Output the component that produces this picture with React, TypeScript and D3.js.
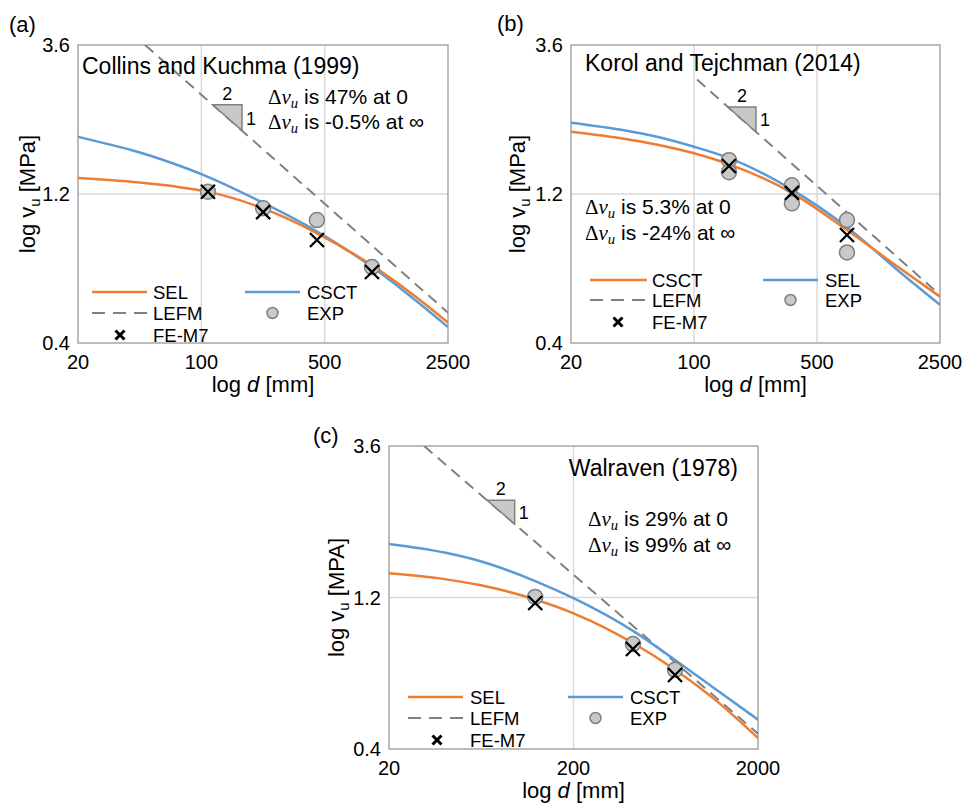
import React from "react";
import * as d3 from "d3";

type Pt = [number, number]; // [d in mm, v in MPa]

// ---------- panel (a) Collins and Kuchma (1999) ----------
const aOrange: Pt[] = [[20, 1.35], [40, 1.313], [70, 1.27], [110, 1.219], [220, 1.083], [450, 0.9], [930, 0.708], [1500, 0.585], [2500, 0.465]];
const aBlue: Pt[] = [[20, 1.83], [30, 1.73], [40, 1.66], [70, 1.5], [100, 1.39], [220, 1.13], [410, 0.94], [930, 0.7], [1500, 0.57], [2500, 0.45]];
const aLefm: Pt[] = [[48, 3.6], [2500, 0.5]];
const aExp: Pt[] = [[109, 1.22], [224, 1.08], [452, 0.99], [927, 0.7]];
const aFe: Pt[] = [[109, 1.22], [224, 1.05], [452, 0.855], [927, 0.675]];

// ---------- panel (b) Korol and Tejchman (2014) ----------
const bOrange: Pt[] = [[20, 1.9], [40, 1.804], [60, 1.732], [100, 1.62], [160, 1.49], [360, 1.21], [740, 0.92], [1500, 0.69], [2500, 0.563]];
const bBlue: Pt[] = [[20, 2.03], [40, 1.92], [60, 1.837], [100, 1.7], [160, 1.56], [360, 1.24], [740, 0.94], [1500, 0.67], [2500, 0.53]];
const bLefm: Pt[] = [[104, 2.79], [2500, 0.57]];
const bExp: Pt[] = [[158, 1.54], [158, 1.41], [360, 1.28], [360, 1.12], [740, 0.99], [740, 0.78]];
const bFe: Pt[] = [[158, 1.475], [360, 1.21], [740, 0.887]];

// ---------- panel (c) Walraven (1978) ----------
const cOrange: Pt[] = [[20, 1.43], [40, 1.371], [62, 1.313], [124, 1.183], [200, 1.07], [420, 0.863], [710, 0.711], [1200, 0.565], [2000, 0.433]];
const cBlue: Pt[] = [[20, 1.77], [40, 1.663], [62, 1.564], [124, 1.352], [200, 1.194], [420, 0.942], [710, 0.763], [1200, 0.612], [2000, 0.495]];
const cLefm: Pt[] = [[31, 3.6], [2000, 0.447]];
const cExp: Pt[] = [[124, 1.205], [420, 0.856], [710, 0.71]];
const cFe: Pt[] = [[124, 1.153], [420, 0.826], [710, 0.684]];

const yTicks = [0.4, 1.2, 3.6];
const xTicksAB = [20, 100, 500, 2500];
const xTicksC = [20, 200, 2000];

const FONT = "'Liberation Sans', Arial, Helvetica, sans-serif";
const SERIF = "'Liberation Serif', 'DejaVu Serif', serif";
const ORANGE = "#ED7D31";
const BLUE = "#5B9BD5";
const GRAY = "#808080";

function Delta({ x, y, rest, size }: { x: number; y: number; rest: string; size: number }) {
  return (
    <text x={x} y={y} fontSize={size} fontFamily={FONT} fill="#000">
      <tspan fontFamily={SERIF}>Δ</tspan>
      <tspan fontFamily={SERIF} fontStyle="italic">v</tspan>
      <tspan fontFamily={SERIF} fontStyle="italic" fontSize={size * 0.7} dy={size * 0.18}>u</tspan>
      <tspan dy={-size * 0.18}>{" " + rest}</tspan>
    </text>
  );
}

function Cross({ cx, cy, r, w }: { cx: number; cy: number; r: number; w: number }) {
  return (
    <path d={`M${cx - r},${cy - r}L${cx + r},${cy + r}M${cx - r},${cy + r}L${cx + r},${cy - r}`} stroke="#000" strokeWidth={w} fill="none" />
  );
}

function Panel(p: any) {
  const { box } = p;
  const x = d3.scaleLog().domain([20, p.xMax]).range([box.x, box.x + box.w]);
  const y = d3.scaleLog().domain([0.4, 3.6]).range([box.y + box.h, box.y]);
  const line = d3.line<Pt>().x((d) => x(d[0])).y((d) => y(d[1])).curve(d3.curveMonotoneX);
  const straight = d3.line<Pt>().x((d) => x(d[0])).y((d) => y(d[1]));

  // slope triangle sitting on the LEFM line
  const [l0, l1] = p.lefm as Pt[];
  const lefmAt = (d: number) => {
    const t = (Math.log(d) - Math.log(l0[0])) / (Math.log(l1[0]) - Math.log(l0[0]));
    return Math.exp(Math.log(l0[1]) + t * (Math.log(l1[1]) - Math.log(l0[1])));
  };
  const [t1, t2] = p.tri;
  const tx1 = x(t1), tx2 = x(t2), ty1 = y(lefmAt(t1)), ty2 = y(lefmAt(t2));

  const L = p.legend;
  const clip = `clip-${p.id}`;
  return (
    <g fontFamily={FONT}>
      <defs>
        <clipPath id={clip}>
          <rect x={box.x} y={box.y} width={box.w} height={box.h} />
        </clipPath>
      </defs>
      {/* grid */}
      {p.xTicks.slice(1, -1).map((t: number) => (
        <line key={t} x1={x(t)} x2={x(t)} y1={box.y} y2={box.y + box.h} stroke="#D9D9D9" strokeWidth={1.5} />
      ))}
      {yTicks.slice(1, -1).map((t) => (
        <line key={t} x1={box.x} x2={box.x + box.w} y1={y(t)} y2={y(t)} stroke="#D9D9D9" strokeWidth={1.5} />
      ))}
      <rect x={box.x} y={box.y} width={box.w} height={box.h} fill="none" stroke="#A6A6A6" strokeWidth={1.5} />

      <g clipPath={`url(#${clip})`}>
        <path d={straight(p.lefm) || ""} fill="none" stroke={GRAY} strokeWidth={2} strokeDasharray="11,7" />
        <path d={line(p.blue) || ""} fill="none" stroke={BLUE} strokeWidth={2.5} />
        <path d={line(p.orange) || ""} fill="none" stroke={ORANGE} strokeWidth={2.5} />
      </g>

      <path d={`M${tx1},${ty1}L${tx2},${ty1}L${tx2},${ty2}Z`} fill="#C8C8C8" stroke={GRAY} strokeWidth={1.5} />
      <text x={(tx1 + tx2) / 2} y={ty1 - 5} fontSize={18} textAnchor="middle">2</text>
      <text x={tx2 + 4} y={(ty1 + ty2) / 2 + 7} fontSize={18}>1</text>

      {p.exp.map((d: Pt, i: number) => (
        <circle key={i} cx={x(d[0])} cy={y(d[1])} r={7.5} fill="#C9C9C9" stroke="#7F7F7F" strokeWidth={1.5} />
      ))}
      {p.fe.map((d: Pt, i: number) => (
        <Cross key={i} cx={x(d[0])} cy={y(d[1])} r={7} w={2.3} />
      ))}

      {/* axes labels */}
      {yTicks.map((t) => (
        <text key={t} x={box.x - 8} y={y(t) + 7} fontSize={20} textAnchor="end">{t.toFixed(1)}</text>
      ))}
      {p.xTicks.map((t: number) => (
        <text key={t} x={x(t)} y={box.y + box.h + 26} fontSize={20} textAnchor="middle">{t}</text>
      ))}
      <text x={box.x + box.w / 2} y={box.y + box.h + 49} fontSize={22} textAnchor="middle">
        log <tspan fontStyle="italic">d</tspan> [mm]
      </text>
      <text transform={`translate(${p.yTitleX},${box.y + box.h / 2}) rotate(-90)`} fontSize={22} textAnchor="middle">
        log v<tspan fontSize={15} dy={5}>u</tspan>
        <tspan dy={-5}>{` [${p.unit}]`}</tspan>
      </text>
      <text x={p.label[1]} y={p.label[2]} fontSize={22}>{p.label[0]}</text>

      {/* annotations */}
      <text x={p.title.x} y={p.title.y} fontSize={23} textAnchor={p.title.anchor}>{p.title.text}</text>
      {p.deltas.lines.map((s: string, i: number) => (
        <Delta key={i} x={p.deltas.x} y={p.deltas.y[i]} rest={s} size={21} />
      ))}

      {/* legend */}
      <g fontSize={18.5}>
        <line x1={L.c1[0]} x2={L.c1[1]} y1={L.rows[0]} y2={L.rows[0]} stroke={ORANGE} strokeWidth={2.5} />
        <text x={L.t1} y={L.rows[0] + 7}>{L.names[0]}</text>
        <line x1={L.c2[0]} x2={L.c2[1]} y1={L.rows[0]} y2={L.rows[0]} stroke={BLUE} strokeWidth={2.5} />
        <text x={L.t2} y={L.rows[0] + 7}>{L.names[1]}</text>
        <line x1={L.c1[0]} x2={L.c1[1]} y1={L.rows[1]} y2={L.rows[1]} stroke={GRAY} strokeWidth={2} strokeDasharray="13,8" />
        <text x={L.t1} y={L.rows[1] + 7}>LEFM</text>
        <circle cx={(L.c2[0] + L.c2[1]) / 2} cy={L.rows[1]} r={5.5} fill="#C9C9C9" stroke="#7F7F7F" strokeWidth={1.5} />
        <text x={L.t2} y={L.rows[1] + 7}>EXP</text>
        <Cross cx={L.xMark} cy={L.rows[2]} r={4.5} w={3} />
        <text x={L.t1} y={L.rows[2] + 7}>FE-M7</text>
      </g>
    </g>
  );
}

export default function App() {
  return (
    <svg width={965} height={806} style={{ position: "absolute", left: 0, top: 0, background: "#fff" }}>
      <Panel
        id="a"
        box={{ x: 78, y: 45, w: 370, h: 298 }}
        xMax={2500}
        xTicks={xTicksAB}
        orange={aOrange}
        blue={aBlue}
        lefm={aLefm}
        exp={aExp}
        fe={aFe}
        tri={[116, 170]}
        unit="MPa"
        yTitleX={35}
        label={["(a)", 9, 32]}
        title={{ text: "Collins and Kuchma (1999)", x: 82, y: 74, anchor: "start" }}
        deltas={{ x: 268, y: [104, 129], lines: ["is 47% at 0", "is -0.5% at ∞"] }}
        legend={{ rows: [292, 313, 335], c1: [92, 147], t1: 153, c2: [245, 300], t2: 307, xMark: 120, names: ["SEL", "CSCT"] }}
      />
      <Panel
        id="b"
        box={{ x: 571, y: 45, w: 369, h: 298 }}
        xMax={2500}
        xTicks={xTicksAB}
        orange={bOrange}
        blue={bBlue}
        lefm={bLefm}
        exp={bExp}
        fe={bFe}
        tri={[156, 225]}
        unit="MPa"
        yTitleX={525}
        label={["(b)", 497, 31]}
        title={{ text: "Korol and Tejchman (2014)", x: 585, y: 71, anchor: "start" }}
        deltas={{ x: 585, y: [214, 240], lines: ["is 5.3% at 0", "is -24% at ∞"] }}
        legend={{ rows: [280, 300, 322], c1: [590, 647], t1: 652, c2: [763, 818], t2: 825, xMark: 618, names: ["CSCT", "SEL"] }}
      />
      <Panel
        id="c"
        box={{ x: 389, y: 446, w: 369, h: 303 }}
        xMax={2000}
        xTicks={xTicksC}
        orange={cOrange}
        blue={cBlue}
        lefm={cLefm}
        exp={cExp}
        fe={cFe}
        tri={[68, 96]}
        unit="MPA"
        yTitleX={344}
        label={["(c)", 313, 443]}
        title={{ text: "Walraven (1978)", x: 738, y: 476, anchor: "end" }}
        deltas={{ x: 588, y: [526, 552], lines: ["is 29% at 0", "is 99% at ∞"] }}
        legend={{ rows: [697, 718, 740], c1: [408, 463], t1: 470, c2: [568, 623], t2: 630, xMark: 437, names: ["SEL", "CSCT"] }}
      />
    </svg>
  );
}
